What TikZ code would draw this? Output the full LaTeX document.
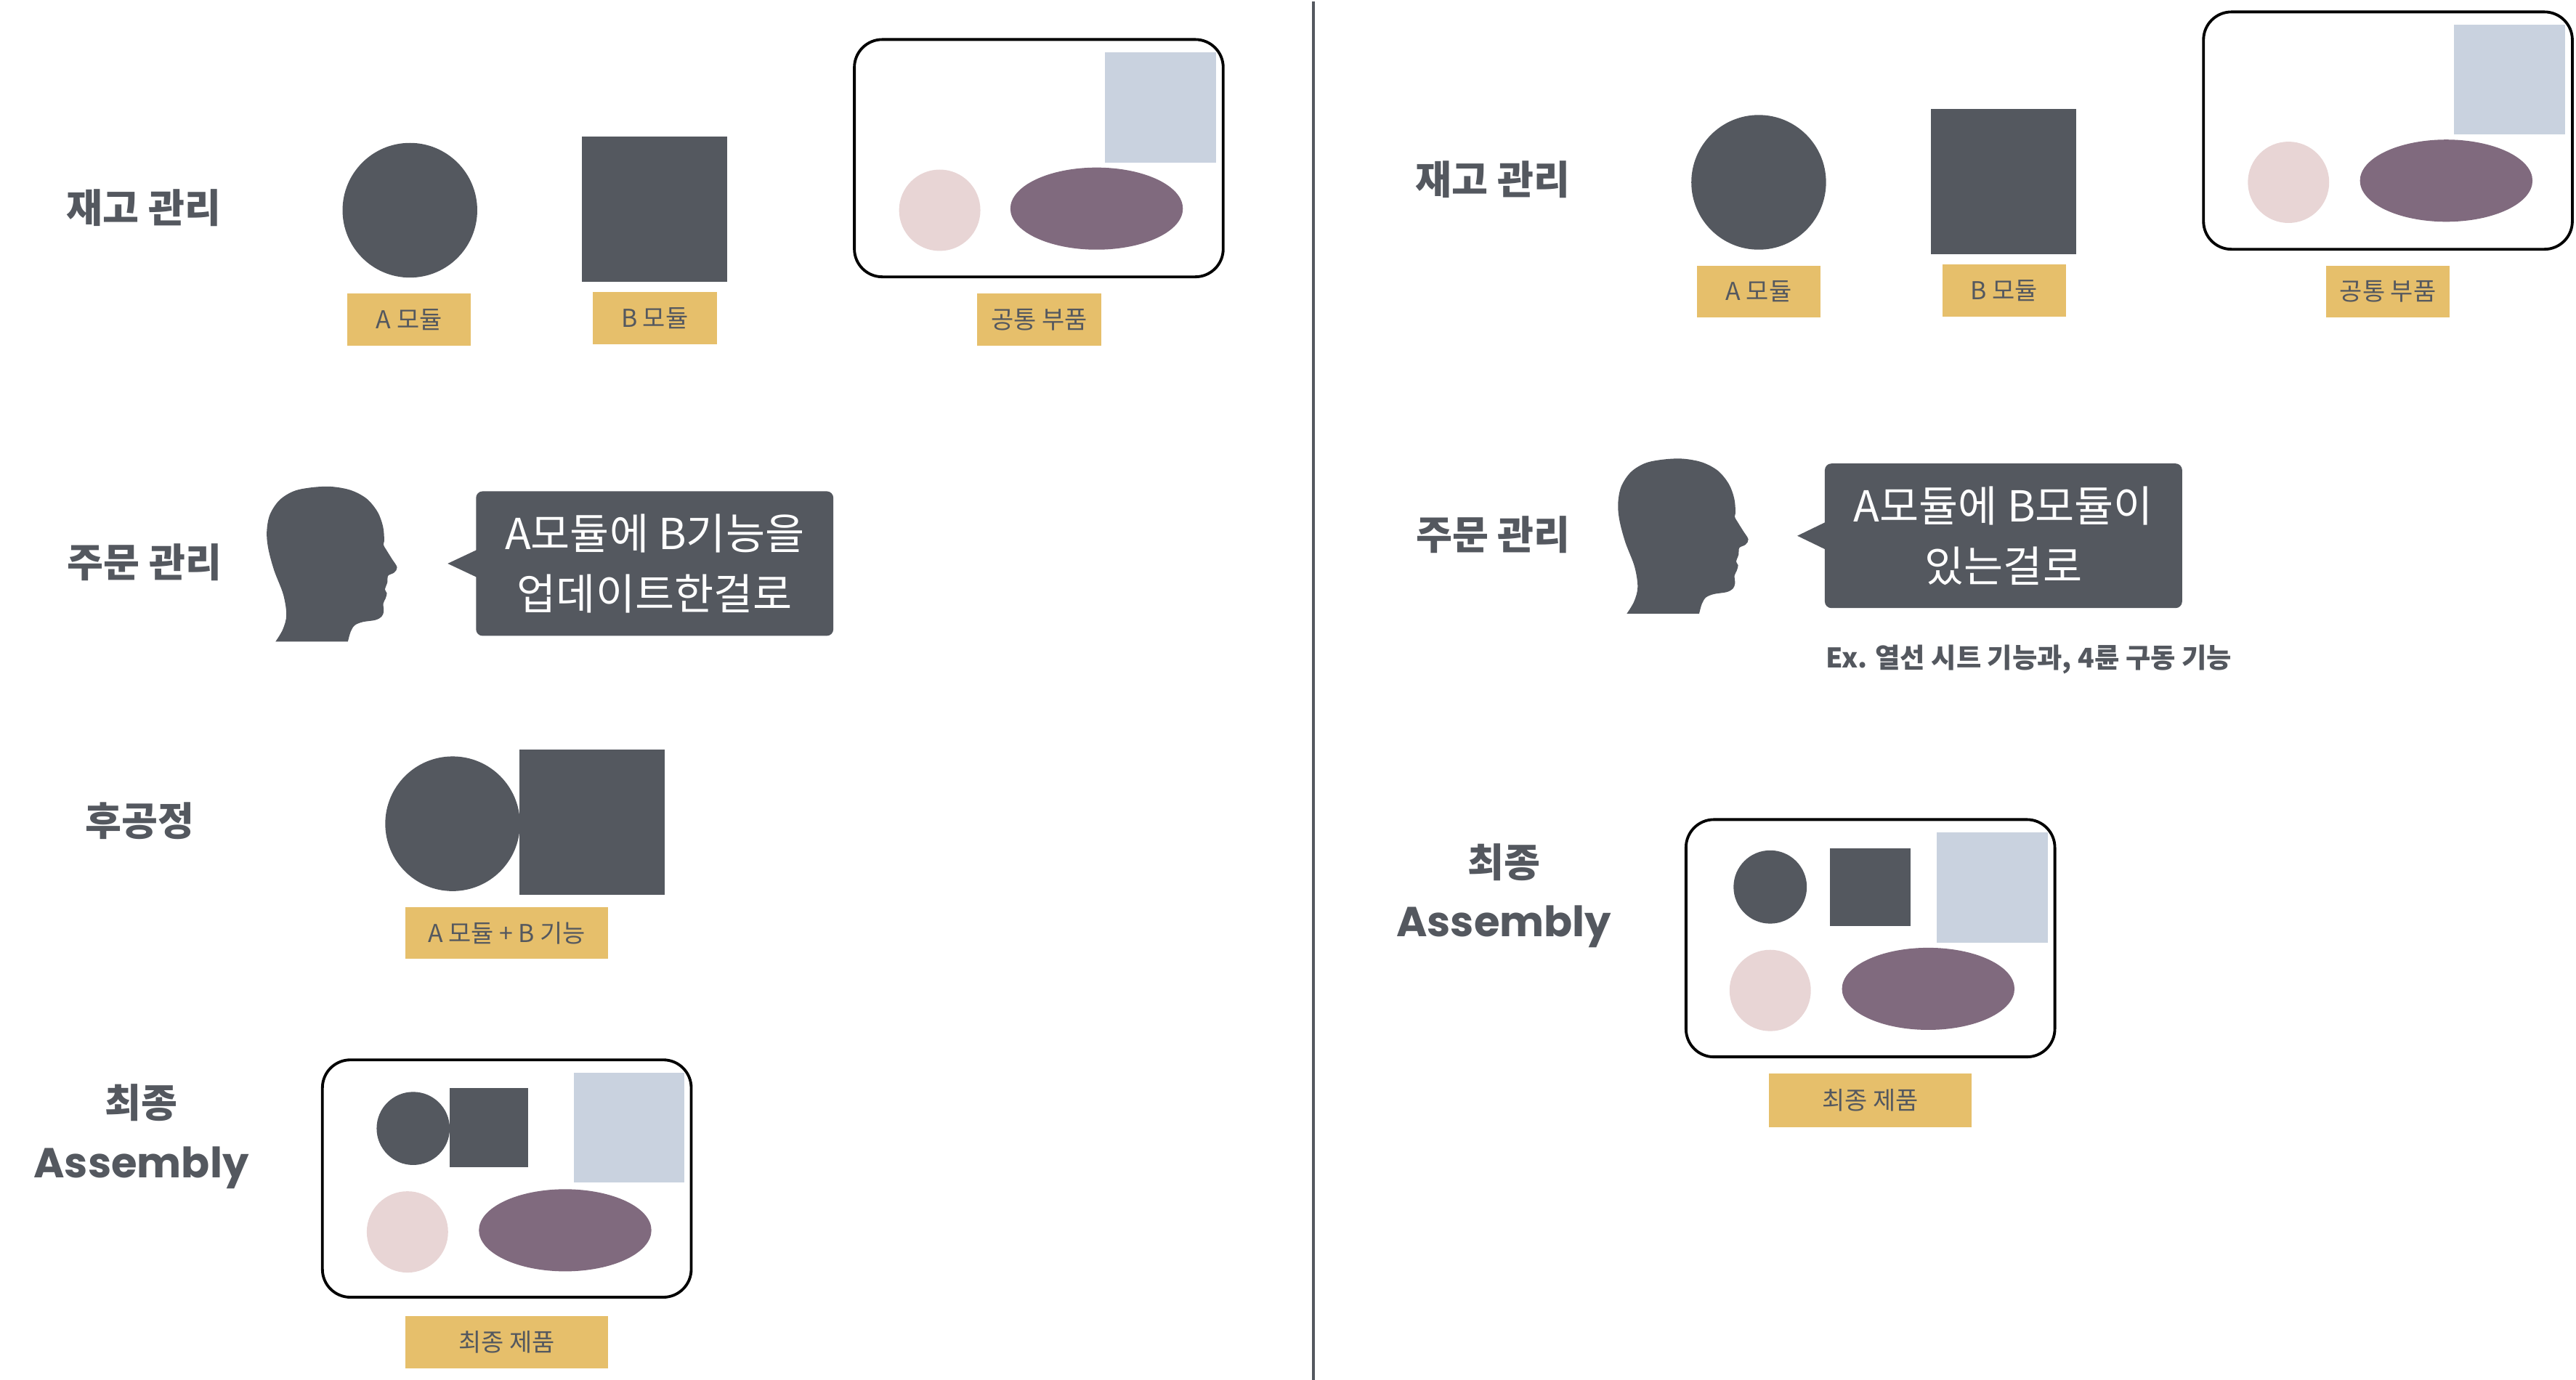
\documentclass[tikz,border=0pt]{standalone}
\usepackage{fontspec}
\setmainfont{Noto Sans CJK KR}
\newfontfamily\asmfont{Poppins}
\usetikzlibrary{shapes.geometric}
\definecolor{dk}{HTML}{54585F}
\definecolor{yel}{HTML}{E6BF6B}
\definecolor{lblue}{HTML}{C9D2DF}
\definecolor{pinkc}{HTML}{E8D5D5}
\definecolor{purp}{HTML}{806A7E}
\tikzset{
  ttl/.style={font=\fontsize{24}{28}\selectfont\bfseries, text=dk, inner sep=0pt},
  asm/.style={font=\asmfont\bfseries\fontsize{25.5}{30}\selectfont, text=dk, inner sep=0pt, anchor=base},
  lab/.style={fill=yel, text=dk, font=\fontsize{15}{16}\selectfont, inner sep=0pt, minimum height=31.7pt},
  dkc/.style={circle, fill=dk, inner sep=0pt},
  dks/.style={rectangle, fill=dk, inner sep=0pt},
  lbr/.style={rectangle, fill=lblue, inner sep=0pt, minimum width=67.5pt, minimum height=67pt},
  pkc/.style={circle, fill=pinkc, inner sep=0pt, minimum size=49.5pt},
  ppe/.style={ellipse, fill=purp, inner sep=0pt, minimum width=105pt, minimum height=50pt},
  frame/.style={draw=black, line width=1.7pt, rounded corners=17pt, minimum width=224.5pt, minimum height=144.5pt, inner sep=0pt},
  bubble/.style={fill=dk, rounded corners=4pt, text=white, minimum width=217.5pt, minimum height=88pt, inner sep=0pt, align=center, font=\fontsize{26}{37}\selectfont},
  divider/.style={draw=dk, line width=1.8pt},
  headpic/.pic={
    \fill[dk] plot[smooth, tension=0.55] coordinates {(118,705) (148,655) (163,595) (150,510) (112,410) (88,320) (82,250) (95,180) (135,120) (195,83) (270,68) (350,65) (430,80) (495,115) (540,170) (562,230) (567,285) (564,305) (575,325) (598,362) (620,398) (608,420) (583,433) (580,460) (570,490) (578,505) (572,528) (563,548) (565,580) (556,602) (530,616) (478,624) (445,638) (428,665) (417,705)} -- cycle;
  }
}
\begin{document}
\begin{tikzpicture}[x=1pt,y=-1pt]
\useasboundingbox (0,0) rectangle (1568,840.15);
% divider
\coordinate (dtop) at (799.5,1);
\coordinate (dbot) at (799.5,840.15);
\draw[divider] (dtop) -- (dbot);

% ===== LEFT PANEL =====
% row 1
\node[ttl] (t1L) at (87.5,126.5) {재고 관리};
\node[dkc, minimum size=82pt] (a1L) at (249.5,128) {};
\node[dks, minimum size=88.5pt] (b1L) at (398.5,127.2) {};
\node[lbr] (lb1L) at (706.5,65.5) {};
\node[pkc] (pk1L) at (572,128) {};
\node[ppe] (pp1L) at (667.5,127) {};
\node[frame] (f1L) at (632.3,96.3) {};
\node[lab, minimum width=75.5pt] (la1L) at (249,194.6) {A 모듈};
\node[lab, minimum width=75.5pt] (lbt1L) at (398.5,193.8) {B 모듈};
\node[lab, minimum width=75.5pt] (lc1L) at (632.5,194.6) {공통 부품};

% row 2
\node[ttl] (t2L) at (88,342.5) {주문 관리};
\pic[scale=0.1474] (headL) at (150.3,286.7) {headpic};
\node[bubble] (bubL) at (398.5,343.1) {A모듈에 B기능을\\업데이트한걸로};
\coordinate (tipL) at (272.5,343.1);
\fill[dk] ([xshift=1pt,yshift=-8.5pt]bubL.west) -- (tipL) -- ([xshift=1pt,yshift=8.5pt]bubL.west) -- cycle;

% row 3
\node[ttl] (t3L) at (85,500) {후공정};
\node[dkc, minimum size=82pt] (a3L) at (275.5,501.5) {};
\node[dks, minimum size=88.5pt] (b3L) at (360.5,500.7) {};
\node[lab, minimum width=123.5pt] (l3L) at (308.5,568) {A 모듈 + B 기능};

% row 4
\node[ttl] (t4L) at (86,671.5) {최종};
\node[asm] (asmL) at (86,717) {Assembly};
\node[dkc, minimum size=44.5pt] (a4L) at (251.5,687) {};
\node[dks, minimum size=48pt] (b4L) at (297.5,686.4) {};
\node[lbr] (lb4L) at (383,686.5) {};
\node[pkc] (pk4L) at (248,750) {};
\node[ppe] (pp4L) at (344,749) {};
\node[frame] (f4L) at (308.5,717.5) {};
\node[lab, minimum width=123.5pt] (l4L) at (308.5,817.2) {최종 제품};

% ===== RIGHT PANEL =====
% row 1
\node[ttl] (t1R) at (908.7,109.4) {재고 관리};
\node[dkc, minimum size=82pt] (a1R) at (1070.5,111) {};
\node[dks, minimum size=88.5pt] (b1R) at (1219.5,110.5) {};
\node[lbr] (lb1R) at (1527.5,48.5) {};
\node[pkc] (pk1R) at (1393,111) {};
\node[ppe] (pp1R) at (1489,110) {};
\node[frame] (f1R) at (1453.5,79.5) {};
\node[lab, minimum width=75.5pt] (la1R) at (1070.5,177.6) {A 모듈};
\node[lab, minimum width=75.5pt] (lbt1R) at (1220,176.9) {B 모듈};
\node[lab, minimum width=75.5pt] (lc1R) at (1453.5,177.6) {공통 부품};

% row 2
\node[ttl] (t2R) at (909,325.7) {주문 관리};
\pic[scale=0.1474] (headR) at (972.8,269.7) {headpic};
\node[bubble] (bubR) at (1219.5,326.2) {A모듈에 B모듈이\\있는걸로};
\coordinate (tipR) at (1094,326.2);
\fill[dk] ([xshift=1pt,yshift=-8.5pt]bubR.west) -- (tipR) -- ([xshift=1pt,yshift=8.5pt]bubR.west) -- cycle;
\node[font=\fontsize{16.5}{18}\selectfont\bfseries, text=dk, inner sep=0pt] (exR) at (1235,401.5) {Ex. 열선 시트 기능과, 4륜 구동 기능};

% row 3
\node[ttl] (t3R) at (915.5,524.8) {최종};
\node[asm] (asmR) at (915.4,570.3) {Assembly};
\node[dkc, minimum size=44.6pt] (a3R) at (1077.5,540) {};
\node[dks, minimum width=49pt, minimum height=47.5pt] (b3R) at (1138.3,540.25) {};
\node[lbr] (lb3R) at (1212.7,540.25) {};
\node[pkc] (pk3R) at (1077.5,603) {};
\node[ppe] (pp3R) at (1173.7,602) {};
\node[frame] (f3R) at (1138.5,571.2) {};
\node[lab, minimum width=123.4pt, minimum height=32.7pt] (l3R) at (1138.3,670) {최종 제품};
\end{tikzpicture}
\end{document}
